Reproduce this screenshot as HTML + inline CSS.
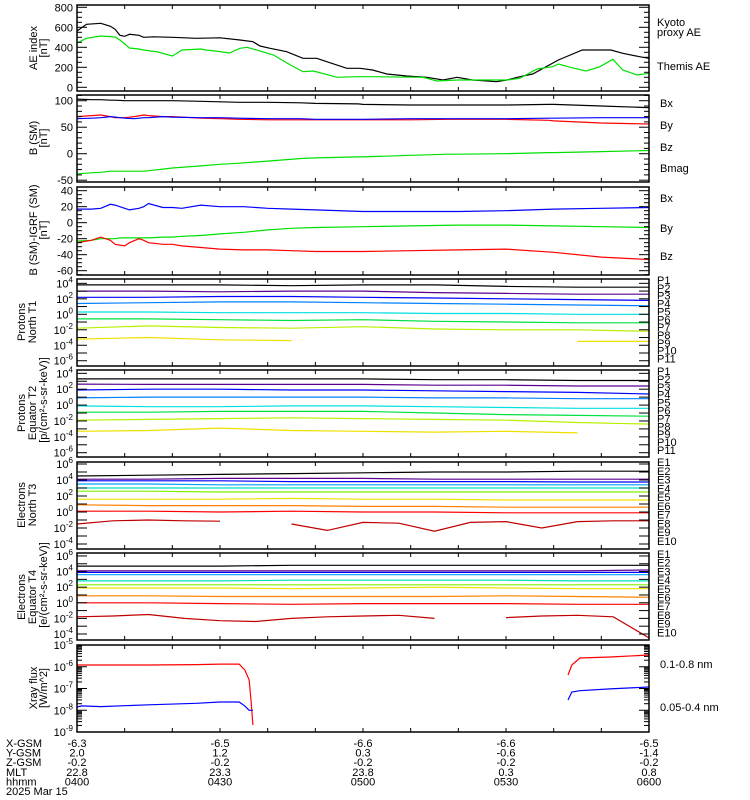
<!DOCTYPE html>
<html><head><meta charset="utf-8"><style>
html,body{margin:0;padding:0;background:#fff;}
svg{display:block;font-family:"Liberation Sans",sans-serif;}
text{font-size:11px;fill:#000;}
</style></head><body>
<svg id="chart" width="750" height="800" viewBox="0 0 750 800" xmlns="http://www.w3.org/2000/svg">
<g id="series"></g>
<g id="axes"></g>
</svg>
<script>
// ---- data ----
const timeTicks = [0,30,60,90,120];
const hhmm = ["0400","0430","0500","0530","0600"];
const xgsm = ["-6.3","-6.5","-6.6","-6.6","-6.5"];
const ygsm = ["2.0","1.2","0.3","-0.6","-1.4"];
const zgsm = ["-0.2","-0.2","-0.2","-0.2","-0.2"];
const mlt = ["22.8","23.3","23.8","0.3","0.8"];

const aeThemisT = [0,2,5,7,8,9,10,11,13,14,16,20,25,30,34.2,36.9,38.4,40.5,44,47.4,50.3,52.4,56.6,59.4,62,65,69.2,73.4,76.8,79.7,83,88,90.2,92.9,95.6,101,106,112,114.5,118,120];
const aeThemis = [563,630,640,610,580,520,510,530,520,500,505,500,490,495,473,456,413,390,356,290,290,256,190,190,173,133,113,100,73,100,73,56,73,106,133,273,373,373,340,306,290];
const aeKyotoT = [0,2,5,8,9,10,11,13,14,17,20,20.7,22,26,27,29,32,34.2,35.7,41.2,44.8,47.4,49.6,54.6,58.7,62,72.6,75.5,79.7,90.2,92.9,96.5,99.8,101,103.8,106.8,109.7,112.4,114.5,117.5,120];
const aeKyoto = [443,490,513,503,473,433,393,383,373,353,313,333,373,383,373,363,343,390,400,323,223,156,163,100,106,106,100,63,73,73,90,183,206,233,196,163,206,280,173,123,140];

const magT = [0,3,5,7,8,10,12,14,15,18,20,26,30,34,40,47,50,59,60,70,78,80,90,99,100,110,120];
const bmag = [103,102,102,101,101,100,100,100,100,100,100,99,98,97,97,96,95,94,93,92,92,92,92,93,93,90,87];
const bx = [66,67,68,70,69,67,66,68,68,70,69,68,68,67,66,66,65,65,65,66,66,66,66,67,67,68,68];
const by = [-38,-36,-35,-33,-33,-33,-33,-33,-32,-29,-27,-23,-20,-18,-14,-9,-8,-6,-6,-3,-1,-1,0,2,2,4,6];
const bz = [70,72,73,70,68,68,70,73,72,70,70,67,66,65,64,64,64,64,64,64,65,65,65,63,62,58,56];

const dbT = [0,3,5,7,8,9,10,11,13,14,15,18,20,22,26,30,35,40,45,50,60,70,80,90,100,110,120];
const dbx = [17,17,18,23,22,20,18,16,18,20,24,19,19,18,22,20,20,18,17,16,14,14,14,15,17,18,19];
const dby = [-23,-22,-20,-20,-20,-19,-19,-19,-19,-19,-19,-18,-18,-17,-16,-14,-12,-9,-7,-6,-5,-4,-3,-3,-4,-5,-6];
const dbz = [-25,-22,-18,-22,-27,-28,-29,-25,-20,-22,-25,-27,-27,-29,-31,-33,-34,-34,-35,-36,-36,-35,-34,-33,-37,-43,-46];

const partT = [0,15,30,45,60,75,90,105,120];
const t1P = [
 [3.8,3.8,3.8,3.7,3.8,3.8,3.6,3.5,3.5],
 [3.0,3.0,2.9,3.0,3.0,2.8,2.7,2.6,2.6],
 [2.2,2.2,2.3,2.3,2.2,2.1,2.0,1.9,1.8],
 [1.4,1.5,1.6,1.6,1.5,1.4,1.3,1.2,1.1],
 [0.3,0.3,0.2,0.2,0.2,0.1,0.1,0.0,0.0],
 [-0.6,-0.6,-0.7,-0.8,-0.7,-0.9,-1.0,-1.1,-1.1],
 [-1.8,-1.5,-1.7,-1.8,-1.6,-1.9,-2.0,-2.0,-2.2],
 [-3.2,-3.0,-3.3,-3.4,null,-3.3,null,-3.5,-3.5]
];
const t2P = [
 [3.3,3.3,3.3,3.3,3.3,3.2,3.2,3.1,3.1],
 [2.65,2.6,2.6,2.6,2.6,2.5,2.5,2.4,2.4],
 [1.9,2.0,2.0,1.9,1.9,1.8,1.7,1.6,1.4],
 [0.9,1.0,1.0,1.0,1.0,0.9,0.9,0.8,0.8],
 [-0.1,-0.2,-0.2,-0.1,-0.1,-0.2,-0.3,-0.4,-0.4],
 [-0.9,-0.9,-0.8,-0.8,-0.8,-1.0,-1.2,-1.3,-1.4],
 [-1.9,-1.8,-1.7,-1.6,-1.7,-1.8,-1.9,-2.2,-2.4],
 [-3.3,-3.2,-2.9,-3.2,-3.3,-3.4,-3.3,-3.5,null]
];
const t3E = [
 [4.5,4.6,4.7,4.8,4.9,5.0,5.0,5.1,5.1],
 [4.1,4.1,4.2,4.2,4.2,4.1,4.1,4.1,4.1],
 [3.9,3.9,3.9,3.8,3.8,3.8,3.8,3.75,3.75],
 [3.5,3.5,3.4,3.4,3.4,3.4,3.4,3.4,3.4],
 [3.0,3.0,3.0,3.0,3.0,3.0,3.0,3.0,3.0],
 [2.6,2.6,2.5,2.5,2.5,2.5,2.5,2.5,2.5],
 [1.6,1.6,1.6,1.7,1.6,1.6,1.5,1.5,1.5],
 [0.9,0.8,0.8,0.8,0.7,0.7,0.6,0.6,0.6],
 [0.1,0.1,0.0,0.1,0.0,0.0,-0.1,-0.1,-0.1]
];
const t4E = [
 [4.7,4.7,4.7,4.8,4.8,4.8,4.8,4.8,4.8],
 [4.1,4.1,4.1,4.1,4.1,4.1,4.1,4.1,4.2],
 [3.9,3.9,3.9,3.9,3.9,3.9,3.9,3.9,3.9],
 [3.6,3.6,3.6,3.6,3.6,3.6,3.6,3.6,3.6],
 [2.8,2.8,2.8,2.9,2.9,2.9,2.9,2.8,2.8],
 [2.3,2.3,2.3,2.3,2.3,2.3,2.3,2.3,2.3],
 [1.9,1.9,1.9,1.8,1.9,2.0,1.9,1.8,1.8],
 [0.9,0.9,0.8,0.8,0.8,0.8,0.9,0.8,0.7],
 [0.0,0.0,-0.1,-0.2,-0.1,-0.1,-0.1,-0.2,-0.2]
];
const e10T = [0,7.5,15,22.5,30,37.5,45,52.5,60,67.5,75,82.5,90,97.5,105,112.5,120];
const t3E10 = [-1.5,-1.1,-1.0,-1.1,-1.15,null,-1.5,-2.3,-1.3,-1.4,-2.4,-1.3,-1.2,-2.0,-1.2,-1.1,-1.1];
const t4E10 = [-1.8,-1.7,-1.5,-2.0,-2.3,-2.4,-2.0,-1.8,-1.7,-1.6,-2.0,null,-1.9,-1.7,-1.6,-1.8,-4.5];

const xrayT = [0,1,5,15,25,30,34,35.2,36.1,36.5,36.9,70,103,103.8,105.5,111.8,120];
const xrayLong = [-5.92,-5.92,-5.92,-5.92,-5.9,-5.88,-5.88,-6.15,-6.6,-7.53,-8.68,null,-6.38,-5.92,-5.6,-5.55,-5.46];
const xrayShort = [-7.85,-7.8,-7.83,-7.75,-7.68,-7.62,-7.62,-7.8,-8.0,-8.0,-8.0,null,-7.53,-7.16,-7.1,-7.02,-6.93];

const pColors = ["#000000","#5a0090","#0000ff","#0080ff","#00e0e0","#00e040","#b8f000","#f0e000","#ff8000","#ff0000","#c00000"];
const eColors = ["#000000","#5a0090","#0000ff","#00a0ff","#00e0c0","#80f000","#f0e000","#ff8000","#ff0000","#c00000"];

// ---- layout ----
const X0=77, X1=649, TMAX=120;
const NS="http://www.w3.org/2000/svg";
const gS=document.getElementById('series'), gA=document.getElementById('axes');
function xs(t){return X0+(X1-X0)*t/TMAX;}
function mk(tag,attrs,parent){const e=document.createElementNS(NS,tag);for(const k in attrs)e.setAttribute(k,attrs[k]);parent.appendChild(e);return e;}
function panel(top,bot,vmin,vmax){return {top,bot,vmin,vmax,y:v=>bot-(v-vmin)/(vmax-vmin)*(bot-top)};}
const P=[
 panel(5,91,-37,823),
 panel(95,182,-53.4,110.8),
 panel(187,275,-65.4,44.6),
 panel(279,366,-6.68,4.56),
 panel(370,457,-6.54,4.42),
 panel(462,549,-4.625,6.25),
 panel(553,640,-4.77,6.38),
 panel(645,732,-9,-5)
];
function line(pn,T,V,color,name){
  let d="",pen=false;
  for(let i=0;i<T.length;i++){
    if(V[i]===null){pen=false;continue;}
    let y=Math.max(pn.top,Math.min(pn.bot,pn.y(V[i])));
    d+=(pen?"L":"M")+xs(T[i]).toFixed(1)+" "+y.toFixed(1);pen=true;
  }
  const p=mk('path',{d:d,fill:'none',stroke:color,'stroke-width':1.2},gS);
  
  
}
// series
line(P[0],aeThemisT,aeThemis,'#000','themis-ae-line');
line(P[0],aeKyotoT,aeKyoto,'#00e000','kyoto-ae-line');
line(P[1],magT,bmag,'#000','bmag-line');
line(P[1],magT,by,'#00e000','by-line');
line(P[1],magT,bz,'#ff0000','bz-line');
line(P[1],magT,bx,'#0000ff','bx-line');
line(P[2],dbT,dbx,'#0000ff','dbx-line');
line(P[2],dbT,dby,'#00e000','dby-line');
line(P[2],dbT,dbz,'#ff0000','dbz-line');
t1P.forEach((s,i)=>line(P[3],partT,s,pColors[i],'t1-p'+(i+1)+'-line'));
t2P.forEach((s,i)=>line(P[4],partT,s,pColors[i],'t2-p'+(i+1)+'-line'));
t3E.forEach((s,i)=>line(P[5],partT,s,eColors[i],'t3-e'+(i+1)+'-line'));
line(P[5],e10T,t3E10,eColors[9],'t3-e10-line');
t4E.forEach((s,i)=>line(P[6],partT,s,eColors[i],'t4-e'+(i+1)+'-line'));
line(P[6],e10T,t4E10,eColors[9],'t4-e10-line');
line(P[7],xrayT,xrayLong,'#ff0000','xray-long-line');
line(P[7],xrayT,xrayShort,'#0000ff','xray-short-line');

// axes
function txt(x,y,s,anchor,color,name,size){
  const t=mk('text',{x:x,y:y,'text-anchor':anchor||'start'},gA);
  if(color)t.setAttribute('style','fill:'+color+(size?';font-size:'+size+'px':''));
  else if(size)t.setAttribute('style','font-size:'+size+'px');
  t.textContent=s;
  
  
  return t;
}
function pow(x,y,e,name){
  const t=mk('text',{x:x,y:y,'text-anchor':'end'},gA);
  
  
  const a=document.createElementNS(NS,'tspan');a.textContent='10';t.appendChild(a);
  const b=document.createElementNS(NS,'tspan');b.setAttribute('dy','-5');b.setAttribute('style','font-size:8px');b.textContent=e;t.appendChild(b);
}
function tick(x1,y1,x2,y2){mk('line',{x1,y1,x2,y2,stroke:'#000','stroke-width':1},gA);}
P.forEach((pn,k)=>{
  const r=mk('rect',{x:X0,y:pn.top,width:X1-X0,height:pn.bot-pn.top,fill:'none',stroke:'#000','stroke-width':1.5},gA);
  
  
  for(let t=10;t<TMAX;t+=10){tick(xs(t),pn.top,xs(t),pn.top+4);tick(xs(t),pn.bot,xs(t),pn.bot-4);}
});
function linTicks(pn,major,minor,name){
  for(let v=Math.ceil(pn.vmin/minor)*minor;v<=pn.vmax;v+=minor){
    const y=pn.y(v), isM=Math.abs(v/major-Math.round(v/major))<1e-6;
    const L=isM?10:5;
    tick(X0,y,X0+L,y);tick(X1,y,X1-L,y);
    if(isM)txt(73,y+4,String(v),'end',null,name+'-tick-'+v);
  }
}
linTicks(P[0],200,50,'ae');
linTicks(P[1],50,10,'b');
linTicks(P[2],20,5,'db');
function logTicks(pn,labels,name,dense){
  for(let d=Math.floor(pn.vmin);d<=Math.ceil(pn.vmax);d++){
    const y=pn.y(d);
    if(y>=pn.top-0.5&&y<=pn.bot+0.5){
      tick(X0,y,X0+10,y);tick(X1,y,X1-10,y);
      if(labels.includes(d))pow(73,y+4,String(d),name+'-tick-'+d);
    }
    if(dense){for(let m=2;m<10;m++){const ym=pn.y(d+Math.log10(m));if(ym>pn.top&&ym<pn.bot){tick(X0,ym,X0+5,ym);tick(X1,ym,X1-5,ym);}}}
  }
}
logTicks(P[3],[4,2,0,-2,-4,-6],'t1',false);
logTicks(P[4],[4,2,0,-2,-4,-6],'t2',false);
logTicks(P[5],[6,4,2,0,-2,-4],'t3',false);
logTicks(P[6],[6,4,2,0,-2,-4],'t4',false);
logTicks(P[7],[-5,-6,-7,-8,-9],'xray',true);

// y titles
function ytitle(x,y,s,name){
  const t=mk('text',{x:0,y:0,'text-anchor':'middle',transform:'translate('+x+','+y+') rotate(-90)'},gA);
  t.textContent=s;
  
  
}
ytitle(37,48,'AE index','ae-axis-title');ytitle(47,48,'[nT]','ae-axis-unit');
ytitle(37,138,'B (SM)','b-axis-title');ytitle(47,138,'[nT]','b-axis-unit');
ytitle(37,230,'B (SM)-IGRF (SM)','db-axis-title');ytitle(47,230,'[nT]','db-axis-unit');
ytitle(25,322,'Protons','t1-axis-title');ytitle(36,322,'North T1','t1-axis-sub');
ytitle(25,413,'Protons','t2-axis-title');ytitle(36,413,'Equator T2','t2-axis-sub');ytitle(47,400,'[p/(cm²-s-sr-keV)]','proton-unit');
ytitle(25,505,'Electrons','t3-axis-title');ytitle(36,505,'North T3','t3-axis-sub');
ytitle(25,597,'Electrons','t4-axis-title');ytitle(36,597,'Equator T4','t4-axis-sub');ytitle(47,585,'[e/(cm²-s-sr-keV)]','electron-unit');
ytitle(37,688,'Xray flux','xray-axis-title');ytitle(47,688,'[W/m^2]','xray-axis-unit');

// right legends
txt(657,26,'Kyoto','#00e000','legend-kyoto');txt(657,36,'proxy AE','#00e000','legend-proxy-ae');
txt(657,70,'Themis AE','#000','legend-themis-ae');
[['Bx','#0000ff',107],['By','#00e000',129],['Bz','#ff0000',151],['Bmag','#000',172]].forEach(a=>txt(660,a[2],a[0],a[1],'legend-b-'+a[0].toLowerCase()));
[['Bx','#0000ff',202],['By','#00e000',232],['Bz','#ff0000',260]].forEach(a=>txt(660,a[2],a[0],a[1],'legend-db-'+a[0].toLowerCase()));
for(let i=0;i<11;i++){txt(657,284+i*7.85,'P'+(i+1),pColors[i],'legend-t1-p'+(i+1),8);txt(657,375+i*7.9,'P'+(i+1),pColors[i],'legend-t2-p'+(i+1),8);}
for(let i=0;i<10;i++){txt(657,466+i*8.75,'E'+(i+1),eColors[i],'legend-t3-e'+(i+1),8.5);txt(657,558+i*8.7,'E'+(i+1),eColors[i],'legend-t4-e'+(i+1),8.5);}
txt(660,668,'0.1-0.8 nm','#ff0000','legend-xray-long');
txt(660,711,'0.05-0.4 nm','#0000ff','legend-xray-short');

// bottom labels
const rows=[['X-GSM',xgsm],['Y-GSM',ygsm],['Z-GSM',zgsm],['MLT',mlt],['hhmm',hhmm]];
rows.forEach((r,i)=>{
  const y=747+i*9.6;
  txt(6,y,r[0],null,'row-label-'+r[0].toLowerCase());
  timeTicks.forEach((t,j)=>txt(xs(t),y,r[1][j],'middle',null,'row-'+r[0].toLowerCase()+'-'+j));
});
txt(6,795,'2025 Mar 15',null,'date-label');
</script>
</body></html>
